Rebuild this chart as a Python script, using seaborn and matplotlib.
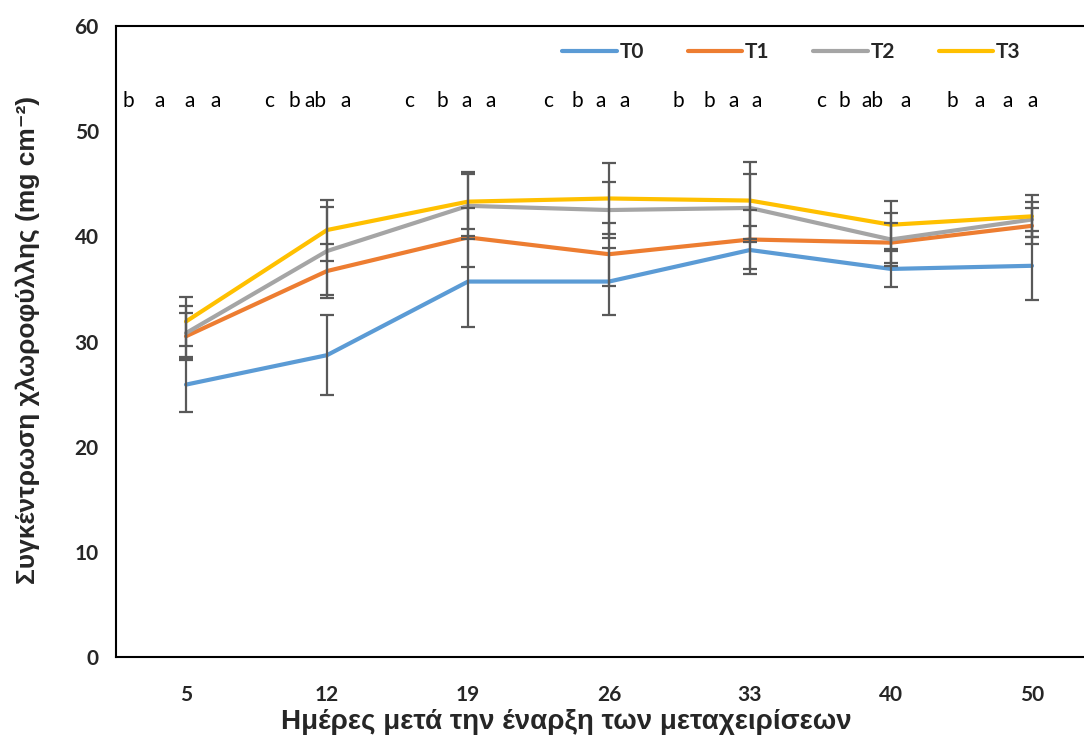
import numpy as np
import pandas as pd
import matplotlib
matplotlib.use("Agg")
import matplotlib.pyplot as plt
import seaborn as sns

# ---- data ----
days = ["5", "12", "19", "26", "33", "40", "50"]
series_names = ["T0", "T1", "T2", "T3"]
t0 = [25.9, 28.7, 35.7, 35.7, 38.7, 36.9, 37.2]
t1 = [30.5, 36.7, 39.9, 38.3, 39.7, 39.4, 41.0]
t2 = [30.8, 38.6, 42.9, 42.5, 42.7, 39.7, 41.6]
t3 = [31.9, 40.6, 43.3, 43.6, 43.4, 41.1, 41.9]
t0_err = [2.6, 3.8, 4.3, 3.2, 2.3, 1.7, 3.3]
t1_err = [2.2, 2.6, 2.8, 3.0, 2.8, 1.9, 1.7]
t2_err = [2.6, 4.2, 3.2, 2.7, 3.2, 2.5, 1.7]
t3_err = [2.3, 2.9, 2.6, 3.4, 3.7, 2.3, 2.0]
letters = [
    ["b", "a", "a", "a"],
    ["c", "b", "ab", "a"],
    ["c", "b", "a", "a"],
    ["c", "b", "a", "a"],
    ["b", "b", "a", "a"],
    ["c", "b", "ab", "a"],
    ["b", "a", "a", "a"],
]
letter_y = 52.9

values = [t0, t1, t2, t3]
errors = [t0_err, t1_err, t2_err, t3_err]
colors = ["#5B9BD5", "#ED7D31", "#A5A5A5", "#FFC000"]

df = pd.DataFrame({
    "day": np.tile(days, len(series_names)),
    "value": np.concatenate(values),
    "series": np.repeat(series_names, len(days)),
})

# ---- style ----
sns.set_theme(style="white")
plt.rcParams["font.family"] = ["Lato", "Noto Sans", "DejaVu Sans"]
label_family = ["Liberation Sans", "DejaVu Sans"]

fig = plt.figure(figsize=(10.84, 7.38), dpi=100)
ax = fig.add_axes([115.5 / 1084, 1 - 657 / 738, 987 / 1084, (657 - 26) / 738])

sns.lineplot(data=df, x="day", y="value", hue="series", palette=colors,
             linewidth=3.0, ax=ax, sort=False, zorder=2)

pos = np.arange(len(days))
for v, e in zip(values, errors):
    ax.errorbar(pos, v, yerr=e, fmt="none", ecolor="#595959", elinewidth=1.6,
                capsize=5, capthick=1.6, zorder=3)

# significance letters (pixel offsets from each group centre, 141 px per category)
offsets_px = [
    [-58, -26, 4, 30],
    [-58, -33, -12, 19],
    [-59, -26, -1, 23],
    [-61, -32, -8, 16],
    [-72, -41, -16, 7],
    [-70, -47, -19, 15],
    [-80, -52, -24, 1],
]
for i, (grp, offs) in enumerate(zip(letters, offsets_px)):
    for lab, o in zip(grp, offs):
        ax.text(i + o / 141.0, letter_y, lab, ha="center", va="center",
                fontsize=15, color="black")

ax.set_xlim(-0.5, len(days) - 0.5)
ax.set_ylim(0, 60)
ax.set_yticks(np.arange(0, 61, 10))

for s in ax.spines.values():
    s.set_color("black")
    s.set_linewidth(1.5)
    s.set_visible(True)

ax.tick_params(axis="x", length=0, pad=20, labelsize=15)
ax.tick_params(axis="y", length=0, pad=12, labelsize=15)
for lab in ax.get_xticklabels() + ax.get_yticklabels():
    lab.set_fontweight("bold")

ax.set_xlabel("Ημέρες μετά την έναρξη των μεταχειρίσεων",
              fontdict={"family": label_family, "weight": "bold", "size": 20})
ax.xaxis.set_label_coords((566 - 115.5) / 987, -(722 - 657) / 631)
ax.xaxis.label.set_va("center")
ax.set_ylabel("Συγκέντρωση χλωροφύλλης (mg cm⁻²)",
              fontdict={"family": label_family, "weight": "bold", "size": 19})
ax.yaxis.set_label_coords(-(115.5 - 28) / 987, (657 - 340) / 631)
ax.yaxis.label.set_va("center")

leg = ax.legend(loc="center", bbox_to_anchor=(0.685, 0.959), ncol=4,
                frameon=False, fontsize=15, handlelength=2.6, columnspacing=2.1,
                handletextpad=0.15)
for t in leg.get_texts():
    t.set_fontweight("bold")
for h in leg.get_lines():
    h.set_linewidth(3.0)
    h.set_solid_capstyle("round")

fig.savefig("out.png", dpi=100)
